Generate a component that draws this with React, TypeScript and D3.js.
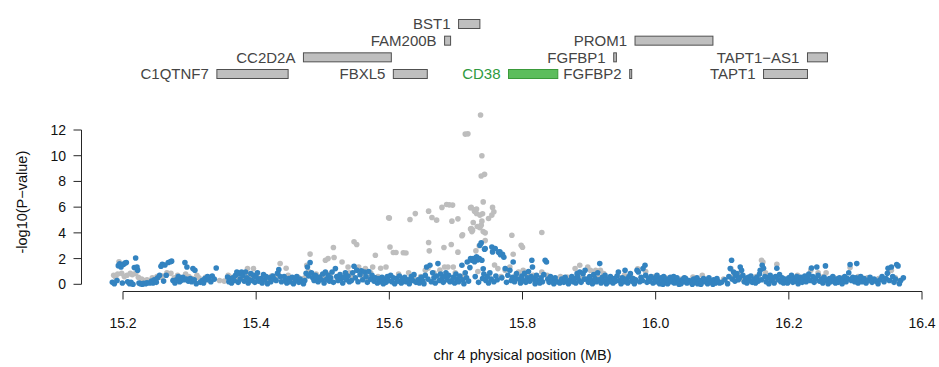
import React from "react";
import * as d3 from "d3";

const W = 939;
const H = 367;

const xTicks = [15.2, 15.4, 15.6, 15.8, 16.0, 16.2, 16.4];
const yTicks = [0, 2, 4, 6, 8, 10, 12];
const xTitle = "chr 4 physical position (MB)";
const yTitle = "-log10(P\u2212value)";

const geneNames = ["BST1", "FAM200B", "PROM1", "CC2D2A", "FGFBP1", "TAPT1\u2212AS1", "C1QTNF7", "FBXL5", "CD38", "FGFBP2", "TAPT1"];
const geneStarts = [15.704, 15.683, 15.969, 15.471, 15.937, 16.228, 15.341, 15.606, 15.779, 15.961, 16.162];
const geneEnds = [15.736, 15.692, 16.086, 15.603, 15.941, 16.258, 15.448, 15.657, 15.853, 15.964, 16.228];
const geneRows = [0, 1, 1, 2, 2, 2, 3, 3, 3, 3, 3];
const highlightGene = "CD38";

// SNPs not in LD (grey): [position MB, -log10 p]
const graySnps: [number, number][] = [
  [15.186,0.7],[15.189,0.55],[15.192,0.8],[15.194,1.75],[15.198,0.85],[15.202,0.6],[15.206,0.7],[15.211,0.85],[15.214,0.75],[15.219,0.85],[15.223,0.55],[15.228,0.4],[15.232,0.3],[15.236,0.35],
  [15.241,0.3],[15.244,0.5],[15.248,0.4],[15.251,0.6],[15.256,0.55],[15.26,0.65],[15.266,0.9],[15.272,0.85],[15.277,0.5],[15.282,0.7],[15.286,0.55],
  [15.294,0.8],[15.299,0.6],[15.304,0.45],[15.311,0.7],[15.314,0.5],[15.32,0.35],[15.324,0.55],[15.33,0.3],[15.335,0.45],
  [15.345,0.3],[15.352,0.25],[15.358,0.7],[15.364,0.55],[15.37,0.4],[15.375,0.6],[15.381,0.5],[15.387,1.22],[15.389,0.8],
  [15.393,0.5],[15.396,1.22],[15.401,0.6],[15.406,0.35],[15.412,0.5],[15.418,0.4],[15.423,0.65],[15.428,0.55],[15.433,0.9],[15.436,1.61],[15.439,0.45],
  [15.445,1.25],[15.448,0.7],[15.453,0.5],[15.458,0.3],[15.463,0.55],[15.468,0.4],[15.473,0.5],[15.476,1.48],[15.479,1.0],[15.481,2.35],[15.486,0.6],[15.49,0.8],
  [15.496,0.6],[15.501,0.45],[15.504,1.87],[15.508,2.0],[15.511,0.8],[15.516,2.86],[15.517,2.08],[15.522,0.5],[15.529,1.74],[15.533,0.6],[15.538,1.35],[15.54,0.9],
  [15.544,0.6],[15.547,3.3],[15.551,3.1],[15.554,1.35],[15.559,0.7],[15.564,1.22],[15.568,0.5],[15.572,0.9],[15.575,1.35],[15.579,2.26],[15.583,0.6],[15.587,1.25],[15.59,0.4],
  [15.595,1.35],[15.599,5.18],[15.6,5.15],[15.601,2.9],[15.606,2.47],[15.61,2.47],[15.614,0.8],[15.621,2.45],[15.625,2.44],[15.629,0.9],[15.631,5.04],[15.639,5.5],[15.636,0.6],
  [15.647,0.6],[15.654,1.09],[15.658,1.25],[15.659,5.69],[15.659,3.25],[15.66,2.6],[15.664,5.2],[15.667,0.9],[15.671,4.99],[15.676,1.1],[15.679,5.98],[15.682,2.86],[15.683,1.35],[15.686,6.21],[15.688,1.35],[15.69,6.18],
  [15.695,6.16],[15.693,3.09],[15.696,1.35],[15.694,4.91],[15.703,5.09],[15.703,2.5],[15.709,3.77],[15.71,3.85],[15.714,11.68],[15.718,11.7],[15.722,5.95],[15.722,4.3],[15.723,5.98],[15.724,4.1],[15.725,4.21],[15.723,4.34],[15.726,4.81],[15.728,5.69],[15.728,5.77],[15.731,5.51],[15.731,5.85],[15.732,4.5],[15.736,5.38],[15.736,4.4],[15.737,13.17],[15.738,4.6],[15.739,10.0],[15.739,4.91],[15.738,8.42],[15.743,8.55],[15.74,5.48],[15.741,6.41],[15.741,4.1],[15.744,4.0],[15.744,3.4],[15.699,0.9],[15.713,0.7],[15.733,1.0],[15.73,2.6],[15.735,3.0],
  [15.749,5.12],[15.754,5.38],[15.755,5.98],[15.757,5.64],[15.75,0.8],[15.758,1.5],[15.763,1.22],[15.768,0.6],[15.774,1.09],[15.781,1.35],[15.784,3.82],[15.786,2.34],[15.79,0.7],
  [15.794,0.96],[15.798,3.04],[15.8,2.88],[15.801,1.09],[15.807,0.7],[15.812,0.4],[15.816,0.7],[15.819,0.31],[15.824,0.5],[15.829,4.03],[15.829,0.96],[15.837,0.7],[15.842,0.3],
  [15.846,0.31],[15.852,0.44],[15.857,0.6],[15.862,0.5],[15.867,0.57],[15.873,0.35],[15.879,1.22],[15.883,0.7],[15.886,1.48],[15.891,0.5],
  [15.898,1.35],[15.902,1.09],[15.906,0.5],[15.91,1.09],[15.914,0.6],[15.917,1.09],[15.922,0.83],[15.927,0.4],[15.933,0.5],[15.939,0.35],[15.943,0.6],
  [15.948,0.5],[15.953,0.7],[15.957,0.3],[15.963,0.55],[15.967,0.4],[15.973,1.2],[15.979,0.5],[15.985,1.0],[15.99,0.35],
  [15.999,0.6],[16.007,0.35],[16.015,0.5],[16.023,0.3],[16.031,0.45],[16.039,0.4],[16.044,0.49],[16.052,0.3],[16.056,0.57],[16.064,0.35],[16.07,0.7],[16.079,0.4],[16.088,0.3],
  [16.102,0.4],[16.113,1.22],[16.117,0.6],[16.124,0.8],[16.13,0.4],[16.136,0.3],[16.142,0.5],
  [16.151,0.6],[16.155,0.4],[16.159,1.87],[16.161,1.74],[16.165,0.9],[16.171,0.5],[16.177,0.35],[16.182,1.56],[16.187,0.5],[16.193,0.3],
  [16.201,0.5],[16.207,0.3],[16.213,0.7],[16.219,0.4],[16.225,0.6],[16.233,1.1],[16.239,0.4],[16.244,0.9],
  [16.252,0.6],[16.256,0.9],[16.262,0.4],[16.268,0.5],[16.275,0.3],[16.281,0.5],[16.287,0.4],[16.292,1.3],
  [16.304,0.6],[16.31,0.4],[16.318,0.5],[16.326,0.3],[16.335,0.45],[16.342,0.35],[16.35,1.0],[16.354,1.1],[16.36,0.5],[16.366,0.3]
];

// SNPs in LD (blue): [position MB, -log10 p]
const blueSnps: [number, number][] = [
  [15.184,0.15],[15.187,0.05],[15.191,0.3],[15.193,1.45],[15.195,1.6],[15.197,1.35],[15.199,0.1],[15.201,1.55],[15.203,1.65],[15.205,1.7],[15.207,0.2],[15.21,0.05],[15.212,0.15],[15.215,0.0],[15.217,1.3],[15.219,2.05],[15.221,1.35],[15.222,1.1],[15.224,0.1],[15.226,0.05],[15.229,0.0],[15.231,0.08],[15.234,0.05],[15.236,0.12],
  [15.24,0.1],[15.243,0.25],[15.245,0.1],[15.247,0.35],[15.25,0.15],[15.252,0.5],[15.255,0.7],[15.257,1.4],[15.259,1.55],[15.261,0.25],[15.263,1.5],[15.265,0.7],[15.268,1.7],[15.271,1.75],[15.273,1.8],[15.275,0.3],[15.278,0.1],[15.28,0.35],[15.283,0.6],[15.285,0.2],[15.287,0.3],
  [15.29,0.55],[15.292,0.35],[15.293,1.69],[15.295,0.4],[15.296,1.35],[15.298,0.25],[15.301,0.45],[15.303,0.2],[15.305,1.22],[15.307,0.35],[15.308,1.09],[15.31,0.05],[15.316,0.15],[15.319,0.3],[15.321,0.1],[15.323,0.45],[15.325,0.35],[15.327,0.6],[15.329,0.5],[15.332,0.2],[15.334,0.65],[15.337,0.4],[15.34,1.27],
  [15.357,0.57],[15.359,0.2],[15.36,0.44],[15.363,0.1],[15.365,0.5],[15.367,0.3],[15.369,0.7],[15.371,0.96],[15.373,0.15],[15.374,0.83],[15.376,0.4],[15.378,0.96],[15.38,0.7],[15.382,0.25],[15.384,0.96],[15.386,0.5],[15.388,0.1],[15.39,0.35],
  [15.392,0.83],[15.394,0.3],[15.396,0.7],[15.398,0.15],[15.4,0.55],[15.402,0.9],[15.404,0.25],[15.407,0.45],[15.409,0.1],[15.411,0.75],[15.413,0.35],[15.415,0.6],[15.417,0.05],[15.42,0.5],[15.422,0.2],[15.425,0.65],[15.427,0.4],[15.43,0.3],[15.432,0.85],[15.434,1.15],[15.436,0.6],[15.438,0.2],
  [15.442,0.6],[15.444,0.3],[15.446,0.1],[15.449,0.45],[15.451,0.2],[15.454,0.55],[15.456,0.05],[15.459,0.35],[15.461,0.6],[15.464,0.15],[15.466,0.4],[15.469,0.2],[15.471,0.05],[15.473,0.3],[15.475,0.85],[15.477,1.35],[15.479,0.65],[15.481,1.7],[15.483,0.9],[15.485,0.5],[15.487,0.3],[15.489,0.7],[15.491,0.45],
  [15.493,0.2],[15.495,0.55],[15.498,0.35],[15.5,0.8],[15.502,0.1],[15.504,0.95],[15.506,0.4],[15.508,0.7],[15.51,0.25],[15.512,0.5],[15.514,0.96],[15.516,0.15],[15.519,1.22],[15.521,0.6],[15.523,0.3],[15.526,0.75],[15.528,0.45],[15.53,0.1],[15.532,0.55],[15.534,0.9],[15.536,0.35],[15.538,0.65],[15.54,0.2],
  [15.543,0.3],[15.545,0.9],[15.547,1.4],[15.549,0.5],[15.551,1.1],[15.553,0.2],[15.556,0.75],[15.558,1.05],[15.56,0.35],[15.563,0.95],[15.565,0.6],[15.567,0.15],[15.569,1.0],[15.572,0.4],[15.574,0.7],[15.577,0.25],[15.579,0.5],[15.582,0.1],[15.584,0.45],[15.587,0.2],[15.589,0.55],[15.591,0.05],
  [15.593,0.4],[15.595,0.15],[15.597,0.6],[15.599,0.3],[15.602,0.7],[15.604,0.2],[15.606,0.5],[15.608,0.05],[15.611,0.45],[15.613,0.25],[15.615,0.65],[15.618,0.1],[15.62,0.4],[15.623,0.55],[15.625,0.2],[15.628,0.35],[15.63,0.05],[15.633,0.6],[15.635,0.3],[15.637,0.75],[15.64,0.15],
  [15.643,0.35],[15.645,0.1],[15.648,0.55],[15.65,0.3],[15.652,0.05],[15.654,0.7],[15.656,1.35],[15.658,0.4],[15.661,1.48],[15.663,0.2],[15.665,0.9],[15.667,0.5],[15.669,0.1],[15.671,0.65],[15.673,1.61],[15.675,0.3],[15.677,0.8],[15.679,0.45],[15.681,0.15],[15.683,0.6],[15.685,0.9],[15.687,0.35],[15.689,0.7],[15.691,0.2],
  [15.694,0.3],[15.696,0.55],[15.698,0.1],[15.7,0.8],[15.702,0.4],[15.704,0.2],[15.706,0.65],[15.709,1.48],[15.71,0.35],[15.712,0.05],[15.714,0.9],[15.716,0.5],[15.717,1.74],[15.719,0.25],[15.721,1.3],[15.722,2.0],[15.724,1.87],[15.726,2.0],[15.728,1.75],[15.729,0.6],[15.731,2.13],[15.733,1.9],[15.734,0.15],[15.736,3.04],[15.735,2.0],[15.738,3.22],[15.739,1.87],[15.74,0.45],[15.741,1.2],[15.742,0.8],[15.743,2.73],[15.744,2.78],
  [15.745,0.3],[15.747,0.6],[15.749,0.1],[15.751,0.9],[15.753,0.4],[15.754,2.9],[15.755,2.52],[15.757,0.2],[15.759,2.78],[15.76,0.65],[15.762,0.35],[15.764,2.5],[15.766,2.52],[15.767,2.3],[15.769,0.5],[15.77,2.34],[15.772,2.1],[15.774,1.22],[15.776,0.15],[15.778,0.7],[15.781,1.09],[15.783,0.3],[15.785,0.55],[15.786,1.74],[15.788,0.2],[15.79,0.45],[15.791,0.83],
  [15.795,0.4],[15.797,0.1],[15.799,0.65],[15.801,0.3],[15.803,0.85],[15.805,0.15],[15.807,0.5],[15.809,1.0],[15.811,0.25],[15.813,0.6],[15.814,1.87],[15.815,1.35],[15.817,0.4],[15.819,0.05],[15.821,0.7],[15.823,0.3],[15.826,0.1],[15.828,0.5],[15.83,0.2],[15.832,0.75],[15.834,1.87],[15.836,1.74],[15.838,0.4],[15.84,0.15],[15.842,0.6],
  [15.845,0.3],[15.847,0.05],[15.849,0.5],[15.852,0.2],[15.856,0.1],[15.859,0.4],[15.862,0.15],[15.864,0.55],[15.867,0.25],[15.869,0.05],[15.872,0.35],[15.874,0.6],[15.876,0.2],[15.878,0.45],[15.88,0.1],[15.882,0.83],[15.883,0.57],[15.885,0.3],[15.886,0.96],[15.888,0.15],[15.891,0.83],[15.893,0.4],[15.894,1.09],
  [15.897,0.4],[15.899,0.15],[15.901,0.6],[15.903,0.3],[15.905,0.05],[15.907,0.75],[15.909,0.45],[15.911,0.2],[15.913,0.9],[15.915,0.35],[15.916,1.61],[15.918,0.1],[15.92,0.55],[15.922,0.25],[15.924,0.7],[15.926,0.05],[15.928,0.4],[15.93,0.2],[15.932,0.6],[15.934,0.3],[15.936,0.1],[15.938,0.45],[15.94,0.25],[15.942,0.65],[15.944,0.96],
  [15.946,0.3],[15.948,0.05],[15.95,0.5],[15.952,0.2],[15.954,1.09],[15.956,0.4],[15.958,0.1],[15.96,0.6],[15.962,0.83],[15.964,0.25],[15.966,0.45],[15.968,0.05],[15.97,0.35],[15.972,1.09],[15.974,0.96],[15.976,0.2],[15.978,0.55],[15.98,0.3],[15.981,1.22],[15.984,1.48],[15.985,0.7],[15.987,0.15],[15.989,0.45],[15.991,0.25],[15.993,0.6],
  [15.996,0.1],[15.998,0.45],[16.0,0.2],[16.001,0.55],[16.002,0.7],[16.004,0.3],[16.006,0.05],[16.008,0.5],[16.01,0.25],[16.011,0.0],[16.012,0.6],[16.014,0.15],[16.016,0.4],[16.018,0.05],[16.019,0.3],[16.02,0.35],[16.022,0.55],[16.024,0.2],[16.026,0.4],[16.027,0.6],[16.028,0.1],[16.03,0.3],[16.032,0.5],[16.034,0.15],[16.035,0.0],[16.036,0.25],[16.038,0.05],[16.04,0.35],[16.042,0.2],[16.043,0.5],[16.045,0.45],[16.047,0.1],[16.05,0.3],[16.053,0.15],[16.055,0.0],[16.057,0.4],[16.06,0.2],[16.062,0.5],[16.063,0.05],[16.066,0.3],[16.068,0.0],[16.069,0.15],[16.072,0.45],[16.074,0.35],[16.075,0.2],[16.078,0.05],[16.08,0.5],[16.081,0.3],[16.084,0.15],[16.086,0.0],[16.087,0.35],[16.09,0.1],[16.092,0.45],[16.093,0.25],[16.096,0.1],
  [16.099,0.15],[16.104,0.35],[16.108,0.05],[16.11,0.6],[16.112,1.22],[16.114,1.87],[16.115,0.4],[16.117,0.96],[16.119,0.25],[16.12,0.7],[16.122,0.83],[16.124,0.35],[16.126,0.5],[16.127,1.35],[16.129,1.09],[16.131,0.7],[16.133,0.2],[16.135,0.45],[16.137,0.1],[16.139,0.55],[16.141,0.3],[16.143,0.65],[16.145,0.15],
  [16.148,0.4],[16.15,0.1],[16.152,0.55],[16.154,0.25],[16.156,0.8],[16.157,1.09],[16.159,0.35],[16.16,1.48],[16.162,1.25],[16.164,0.6],[16.166,0.2],[16.168,0.5],[16.17,0.05],[16.172,0.7],[16.174,0.3],[16.176,0.45],[16.178,0.1],[16.18,0.6],[16.182,1.25],[16.184,0.35],[16.186,0.75],[16.188,0.2],[16.19,0.5],[16.192,0.1],[16.194,0.4],[16.196,0.25],
  [16.198,0.1],[16.2,0.5],[16.202,0.3],[16.204,0.7],[16.206,0.15],[16.208,0.45],[16.21,0.25],[16.212,0.6],[16.214,0.05],[16.216,0.35],[16.218,0.55],[16.22,0.15],[16.222,0.4],[16.224,0.65],[16.226,0.2],[16.228,0.5],[16.23,0.8],[16.232,0.3],[16.234,1.27],[16.236,0.6],[16.238,0.15],[16.24,0.45],[16.242,1.35],[16.244,0.7],[16.246,0.25],
  [16.249,0.4],[16.251,0.1],[16.253,0.55],[16.255,1.43],[16.257,0.3],[16.259,0.05],[16.261,0.45],[16.263,0.2],[16.266,0.6],[16.268,0.3],[16.27,0.1],[16.272,0.4],[16.274,0.15],[16.276,0.5],[16.278,0.25],[16.28,0.05],[16.282,0.35],[16.284,0.6],[16.286,0.2],[16.288,0.45],[16.29,0.9],[16.292,1.54],[16.294,0.3],[16.296,0.55],
  [16.299,0.2],[16.301,0.5],[16.302,1.61],[16.304,0.1],[16.306,0.35],[16.308,0.6],[16.31,0.2],[16.313,0.45],[16.316,0.1],[16.319,0.3],[16.322,0.55],[16.325,0.15],[16.328,0.4],[16.331,0.25],[16.334,0.05],[16.337,0.35],[16.34,0.6],[16.343,0.2],[16.346,0.45],[16.348,0.85],[16.349,1.25],[16.351,0.3],[16.354,1.35],[16.356,0.6],[16.358,0.15],[16.36,0.4],[16.362,1.54],[16.364,1.43],[16.366,0.05],[16.368,0.3],[16.372,0.5]
];

const FONT = "'Liberation Sans', Arial, Helvetica, sans-serif";
const BLUE = "#3383c0";
const GRAY = "#bdbdbd";
const AXIS = "#262626";

export default function App() {
  const x = d3.scaleLinear().domain([15.2, 16.4]).range([123, 922]);
  const y = d3.scaleLinear().domain([0, 12]).range([284.3, 130]);
  const row = d3.scaleLinear().domain([0, 3]).range([24, 74]);
  const axisY = 291.5;
  const axisX = 81.5;
  const r = 2.8;

  return (
    <svg width={W} height={H} style={{ position: "absolute", left: 0, top: 0, background: "#fff" }} fontFamily={FONT}>
      {/* gene track */}
      {geneNames.map((g, i) => {
        const x0 = x(geneStarts[i]);
        const x1 = x(geneEnds[i]);
        const cy = row(geneRows[i]);
        const hl = g === highlightGene;
        return (
          <g key={g}>
            <rect x={x0} y={cy - 4.5} width={Math.max(x1 - x0, 2)} height={9}
              fill={hl ? "#5cbd5c" : "#bfbfbf"} stroke={hl ? "#3a9a3a" : "#505050"} strokeWidth={1} />
            <text x={x0 - 8} y={cy + 5.2} textAnchor="end" fontSize={15} fill={hl ? "#2e9a40" : "#444"}>{g}</text>
          </g>
        );
      })}

      {/* points */}
      {graySnps.map((d, i) => (
        <circle key={"g" + i} cx={x(d[0])} cy={y(d[1])} r={r} fill={GRAY} />
      ))}
      {blueSnps.map((d, i) => (
        <circle key={"b" + i} cx={x(d[0])} cy={y(d[1])} r={r} fill={BLUE} />
      ))}

      {/* x axis */}
      <line x1={x(xTicks[0])} x2={x(xTicks[xTicks.length - 1])} y1={axisY} y2={axisY} stroke={AXIS} strokeWidth={1} />
      {xTicks.map((t) => (
        <g key={"xt" + t}>
          <line x1={x(t)} x2={x(t)} y1={axisY} y2={axisY + 8} stroke={AXIS} strokeWidth={1} />
          <text x={x(t)} y={327.5} textAnchor="middle" fontSize={14} fill="#111">{t.toFixed(1)}</text>
        </g>
      ))}
      <text x={(x(15.2) + x(16.4)) / 2} y={360} textAnchor="middle" fontSize={14.5} fill="#111">{xTitle}</text>

      {/* y axis */}
      <line x1={axisX} x2={axisX} y1={y(0)} y2={y(12)} stroke={AXIS} strokeWidth={1} />
      {yTicks.map((t) => (
        <g key={"yt" + t}>
          <line x1={axisX - 8} x2={axisX} y1={y(t)} y2={y(t)} stroke={AXIS} strokeWidth={1} />
          <text x={66} y={y(t) + 5} textAnchor="end" fontSize={14} fill="#111">{t}</text>
        </g>
      ))}
      <text transform={`translate(27,${(y(0) + y(12)) / 2 - 5}) rotate(-90)`} textAnchor="middle" fontSize={14.5} fill="#111">{yTitle}</text>
    </svg>
  );
}
